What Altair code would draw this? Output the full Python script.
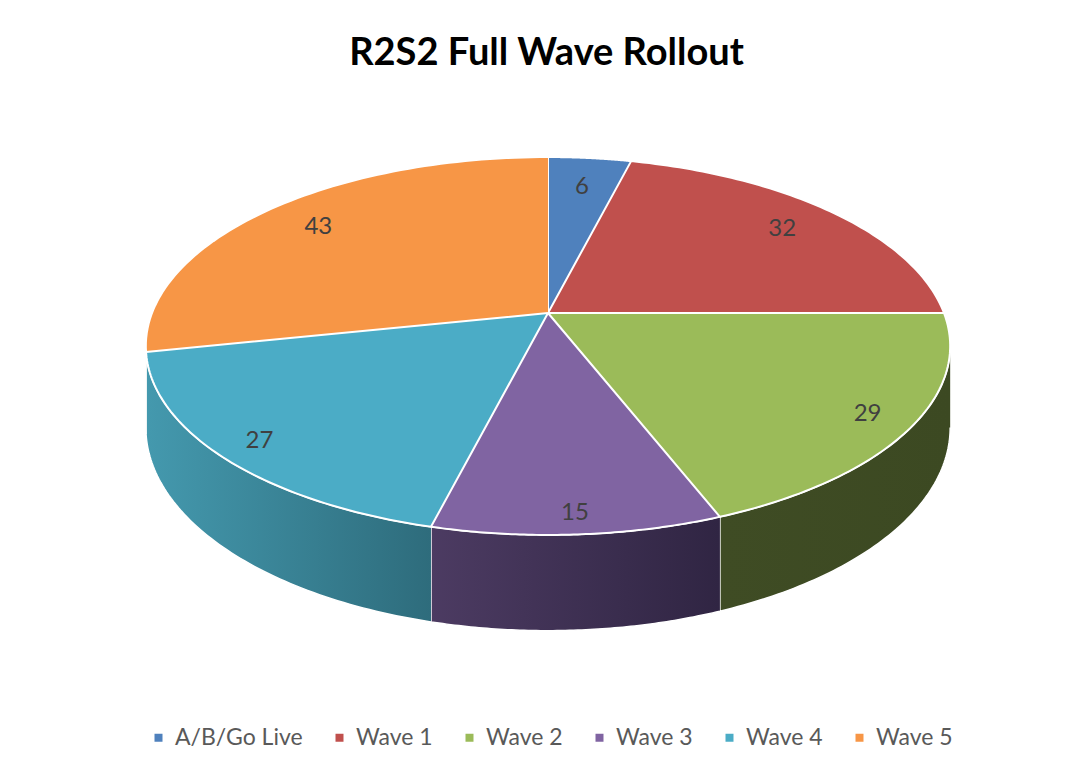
import math
import altair as alt
import pandas as pd

# ---- data ----
categories = ["A/B/Go Live", "Wave 1", "Wave 2", "Wave 3", "Wave 4", "Wave 5"]
values = [6, 32, 29, 15, 27, 43]
colors = ["#4f81bd", "#c0504d", "#9bbb59", "#8064a2", "#4bacc6", "#f79646"]
wall_left = ["#2f4d72", "#74302e", "#3f4c24", "#4c3b62", "#4499ae", "#b56c30"]
wall_right = ["#2f4d72", "#74302e", "#3c4922", "#302543", "#2e6c7c", "#a86328"]

df = pd.DataFrame({"cat": categories, "value": values, "idx": list(range(len(values)))})

# ---- layout / projection parameters ----
W, H = 1055, 680
CX, CY = 540, 235          # pie apex in plot coordinates
B, A, K = 396, 183.2, 0.1746
D = 79                     # wall thickness
N = 72                     # samples along an arc
AMIN = math.acos(-K)
AMAX = 2 * math.pi - AMIN


def px_expr(u, v):
    return f"{CX} + {B} * ({u}) / (1 + {K} * ({v}))"


def py_expr(v):
    return f"{CY} - {A} * ({v}) / (1 + {K} * ({v}))"


xenc = alt.X("px:Q", scale=alt.Scale(domain=[0, W], nice=False, zero=False), axis=None)
yenc = alt.Y("py:Q", scale=alt.Scale(domain=[0, H], nice=False, zero=False, reverse=True), axis=None)


def base():
    return (
        alt.Chart(df)
        .transform_joinaggregate(total="sum(value)")
        .transform_window(cum="sum(value)", sort=[alt.SortField("idx")], frame=[None, 0])
        .transform_calculate(a1="(datum.cum - datum.value) / datum.total * 2 * PI")
        .transform_calculate(a2="datum.cum / datum.total * 2 * PI")
    )


color_scale = alt.Scale(domain=categories, range=colors)

# ---- side walls ----
layers = []
for i, cat in enumerate(categories):
    wall = (
        base()
        .transform_filter(f"datum.cat == '{cat}'")
        .transform_filter(f"datum.a2 > {AMIN} && datum.a1 < {AMAX}")
        .transform_calculate(w1=f"max(datum.a1, {AMIN})")
        .transform_calculate(w2=f"min(datum.a2, {AMAX})")
        .transform_calculate(k=f"sequence(0, {2 * N + 2})")
        .transform_flatten(["k"])
        .transform_calculate(down=f"datum.k > {N} ? 1 : 0")
        .transform_calculate(
            ang=f"datum.k <= {N} ? datum.w1 + (datum.w2 - datum.w1) * datum.k / {N} : "
                f"datum.w2 - (datum.w2 - datum.w1) * (datum.k - {N} - 1) / {N}"
        )
        .transform_calculate(u="sin(datum.ang)", v="cos(datum.ang)")
        .transform_calculate(
            px=px_expr("datum.u", "datum.v"),
            py=f"{py_expr('datum.v')} + datum.down * {D} / (1 + {K} * datum.v)",
        )
        .mark_line(
            filled=True,
            fill=alt.LinearGradient(
                gradient="linear",
                x1=0, x2=1, y1=0, y2=0,
                stops=[alt.GradientStop(color=wall_left[i], offset=0),
                       alt.GradientStop(color=wall_right[i], offset=1)],
            ),
            stroke="white",
            strokeWidth=1.5,
            strokeJoin="round",
        )
        .encode(x=xenc, y=yenc, order=alt.Order("k:Q"))
    )
    layers.append(wall)

# ---- top face ----
top = (
    base()
    .transform_calculate(k=f"sequence(0, {N + 2})")
    .transform_flatten(["k"])
    .transform_calculate(r="datum.k == 0 ? 0 : 1")
    .transform_calculate(ang=f"datum.a1 + (datum.a2 - datum.a1) * max(datum.k - 1, 0) / {N}")
    .transform_calculate(u="datum.r * sin(datum.ang)", v="datum.r * cos(datum.ang)")
    .transform_calculate(px=px_expr("datum.u", "datum.v"), py=py_expr("datum.v"))
    .mark_line(filled=True, stroke="white", strokeWidth=2, strokeJoin="round")
    .encode(
        x=xenc,
        y=yenc,
        order=alt.Order("k:Q"),
        color=alt.Color(
            "cat:N",
            scale=color_scale,
            sort=categories,
            legend=alt.Legend(
                title=None,
                orient="none",
                direction="horizontal",
                legendX=139,
                legendY=648,
                symbolType="square",
                symbolSize=64,
                symbolStrokeWidth=0,
                labelFont="Lato",
                labelFontSize=23,
                labelColor="#595959",
                labelOffset=5,
                columnPadding=25,
            ),
        ),
    )
)
layers.append(top)

# ---- value labels ----
labels = (
    base()
    .transform_calculate(mid="(datum.a1 + datum.a2) / 2")
    .transform_calculate(r="0.855 - 0.065 * cos(datum.mid)")
    .transform_calculate(u="datum.r * sin(datum.mid)", v="datum.r * cos(datum.mid)")
    .transform_calculate(px=px_expr("datum.u", "datum.v"), py=py_expr("datum.v"))
    .mark_text(font="Lato", fontSize=24, color="#404040", align="center", baseline="middle")
    .encode(x=xenc, y=yenc, text=alt.Text("value:Q"))
)
layers.append(labels)

chart = (
    alt.layer(*layers)
    .properties(
        width=W,
        height=H,
        autosize=alt.AutoSizeParams(type="none"),
        padding={"left": 0, "right": 0, "top": 70, "bottom": 0},
        background="white",
        title=alt.TitleParams(
            "R2S2 Full Wave Rollout",
            font="Lato",
            fontSize=38,
            fontWeight="bold",
            color="#000000",
            anchor="middle",
            offset=5,
            dx=11,
        ),
    )
    .configure_view(stroke=None)
)

chart.save("out.html", embed_options={"renderer": "svg", "actions": False})
